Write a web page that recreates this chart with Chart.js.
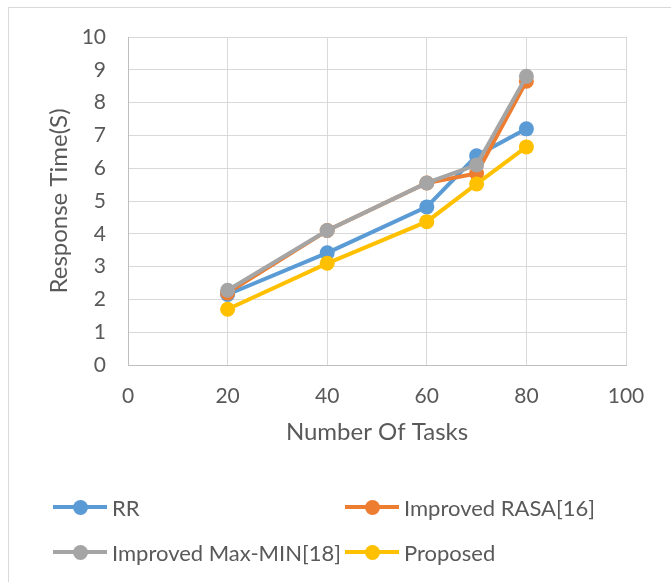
<!DOCTYPE html>
<html>
<head>
<meta charset="utf-8">
<script src="https://cdn.jsdelivr.net/npm/chart.js@4/dist/chart.umd.min.js"></script>
<style>
  html, body { margin: 0; padding: 0; background: #fff; }
  #wrap { position: relative; width: 671px; height: 582px; overflow: hidden; font-family: Lato, "Liberation Sans", sans-serif; }
  #frame { position: absolute; left: 8px; top: 7px; width: 700px; height: 600px; border: 1px solid #d9d9d9; box-sizing: border-box; }
  #chart { position: absolute; left: 0; top: 0; }
  .lg { position: absolute; display: flex; align-items: center; color: #595959; font-size: 22px; white-space: nowrap; }
  .mk { position: relative; width: 54px; height: 4px; margin-right: 5px; flex: none; }
  .mk i { position: absolute; left: 20px; top: -5.5px; width: 15px; height: 15px; border-radius: 50%; }
</style>
</head>
<body>
<div id="wrap">
  <div id="frame"></div>
  <canvas id="chart" width="671" height="582"></canvas>
  <div id="legend"></div>
</div>
<script>
// Task counts on the x axis and response times (seconds) per scheduling method
const tasks = [20, 40, 60, 70, 80];
const rrTimes = [2.15, 3.42, 4.82, 6.38, 7.2];
const rasaTimes = [2.2, 4.1, 5.55, 5.84, 8.65];
const maxMinTimes = [2.28, 4.1, 5.55, 6.1, 8.8];
const proposedTimes = [1.7, 3.1, 4.37, 5.52, 6.65];

const xTickValues = [0, 20, 40, 60, 80, 100];
const yTickValues = [0, 1, 2, 3, 4, 5, 6, 7, 8, 9, 10];

const seriesNames = ['RR', 'Improved RASA[16]', 'Improved Max-MIN[18]', 'Proposed'];
const seriesColors = ['#5B9BD5', '#ED7D31', '#A5A5A5', '#FFC000'];
const seriesValues = [rrTimes, rasaTimes, maxMinTimes, proposedTimes];

const textColor = '#595959';
const gridColor = '#d9d9d9';
const fontFamily = 'Lato, "Liberation Sans", sans-serif';

const datasets = seriesValues.map((vals, i) => ({
  label: seriesNames[i],
  data: tasks.map((t, j) => ({ x: t, y: vals[j] })),
  borderColor: seriesColors[i],
  backgroundColor: seriesColors[i],
  borderWidth: 4,
  pointRadius: 7.5,
  pointHoverRadius: 7.5,
  pointBorderWidth: 0,
  showLine: true,
  tension: 0,
  // later series are painted above earlier ones
  order: seriesValues.length - 1 - i
}));

new Chart(document.getElementById('chart'), {
  type: 'scatter',
  data: { datasets },
  options: {
    responsive: false,
    animation: false,
    events: [],
    layout: { padding: { left: 45, top: 37, right: 45, bottom: 135 } },
    plugins: { legend: { display: false }, tooltip: { enabled: false } },
    scales: {
      x: {
        type: 'linear',
        min: 0, max: 100,
        afterBuildTicks: s => { s.ticks = xTickValues.map(v => ({ value: v })); },
        afterFit: s => { s.height = 82; },
        grid: { color: gridColor, lineWidth: 1, drawTicks: false },
        border: { color: '#bfbfbf', width: 1 },
        ticks: { color: textColor, padding: 19, font: { family: fontFamily, size: 21 } },
        title: { display: true, text: 'Number Of Tasks', color: textColor, padding: 0, font: { family: fontFamily, size: 24 } }
      },
      y: {
        type: 'linear',
        min: 0, max: 10,
        afterBuildTicks: s => { s.ticks = yTickValues.map(v => ({ value: v })); },
        afterFit: s => { s.width = 83; },
        grid: { color: gridColor, lineWidth: 1, drawTicks: false },
        border: { color: '#bfbfbf', width: 1 },
        ticks: { color: textColor, padding: 22, font: { family: fontFamily, size: 21 } },
        title: { display: true, text: 'Response Time(S)', color: textColor, padding: 0, font: { family: fontFamily, size: 24 } }
      }
    }
  }
});

// Legend laid out in two columns below the plot
const legendPos = [[53, 507], [345, 507], [53, 552], [345, 552]];
const legendEl = document.getElementById('legend');
seriesNames.forEach((name, i) => {
  const item = document.createElement('div');
  item.className = 'lg';
  item.style.left = legendPos[i][0] + 'px';
  item.style.top = (legendPos[i][1] - 14) + 'px';
  item.style.height = '28px';
  const mk = document.createElement('span');
  mk.className = 'mk';
  mk.style.background = seriesColors[i];
  const dot = document.createElement('i');
  dot.style.background = seriesColors[i];
  mk.appendChild(dot);
  const label = document.createElement('span');
  label.textContent = name;
  item.appendChild(mk);
  item.appendChild(label);
  legendEl.appendChild(item);
});
</script>
</body>
</html>
